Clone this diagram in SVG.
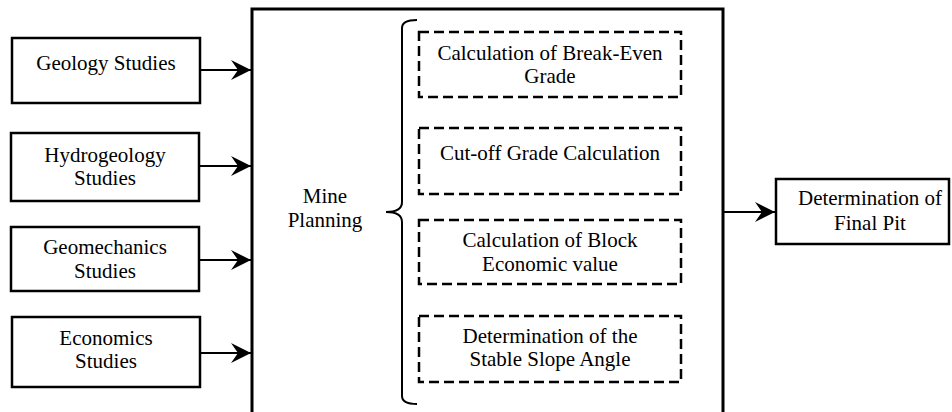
<svg xmlns="http://www.w3.org/2000/svg" width="952" height="412" viewBox="0 0 952 412">
<defs>
<style>
.box{fill:#fff;stroke:#000;stroke-width:2.5}
.big{fill:#fff;stroke:#000;stroke-width:3}
.dash{fill:none;stroke:#000;stroke-width:2.5;stroke-dasharray:10 5}
.t{font-family:"Liberation Serif","Times New Roman","DejaVu Serif",serif;font-size:21px;fill:#000;text-anchor:middle}
.c{fill:none;stroke:#000;stroke-width:2.2}
</style>
<marker id="ah" viewBox="-20 -11 21 22" refX="0" refY="0" markerWidth="21" markerHeight="22" markerUnits="userSpaceOnUse" orient="auto">
<path d="M0,0 L-20,-10 L-13,0 L-20,10 Z" fill="#000"/>
</marker>
</defs>
<rect width="952" height="412" fill="#fff"/>
<g id="mine-planning">
<rect class="big" x="252" y="9" width="471" height="420"/>
<text class="t" x="325" y="203">Mine</text>
<text class="t" x="325" y="227">Planning</text>
<path d="M417,20 Q402,20 402,28 L402,202 Q402,212 386,212 Q402,212 402,222 L402,396 Q402,404 417,404" fill="none" stroke="#000" stroke-width="2"/>
</g>
<g id="geology">
<rect class="box" x="12" y="38" width="188" height="65"/>
<text class="t" x="106" y="70">Geology Studies</text>
</g>
<g id="hydrogeology">
<rect class="box" x="11" y="133" width="188" height="68"/>
<text class="t" x="105" y="162">Hydrogeology</text>
<text class="t" x="105" y="185">Studies</text>
</g>
<g id="geomechanics">
<rect class="box" x="11" y="227" width="188" height="64"/>
<text class="t" x="105" y="254">Geomechanics</text>
<text class="t" x="105" y="278">Studies</text>
</g>
<g id="economics">
<rect class="box" x="12" y="317" width="188" height="70"/>
<text class="t" x="106" y="345">Economics</text>
<text class="t" x="106" y="368">Studies</text>
</g>
<g id="break-even">
<rect class="dash" x="419" y="32" width="262" height="65"/>
<text class="t" x="550" y="60">Calculation of Break-Even</text>
<text class="t" x="550" y="83">Grade</text>
</g>
<g id="cut-off">
<rect class="dash" x="419" y="128" width="262" height="66"/>
<text class="t" x="550" y="160">Cut-off Grade Calculation</text>
</g>
<g id="block-value">
<rect class="dash" x="419" y="220" width="262" height="64"/>
<text class="t" x="550" y="247">Calculation of Block</text>
<text class="t" x="550" y="271">Economic value</text>
</g>
<g id="slope-angle">
<rect class="dash" x="419" y="316" width="262" height="66"/>
<text class="t" x="550" y="343">Determination of the</text>
<text class="t" x="550" y="366">Stable Slope Angle</text>
</g>
<g id="final-pit">
<rect class="box" x="776" y="179" width="173" height="65"/>
<text class="t" x="870" y="205">Determination of</text>
<text class="t" x="870" y="230">Final Pit</text>
</g>
<g id="connectors">
<line class="c" x1="200" y1="70" x2="251" y2="70" marker-end="url(#ah)"/>
<line class="c" x1="199" y1="166" x2="251" y2="166" marker-end="url(#ah)"/>
<line class="c" x1="199" y1="260" x2="251" y2="260" marker-end="url(#ah)"/>
<line class="c" x1="200" y1="353" x2="251" y2="353" marker-end="url(#ah)"/>
<line class="c" x1="723" y1="212" x2="775" y2="212" marker-end="url(#ah)"/>
</g>
</svg>
